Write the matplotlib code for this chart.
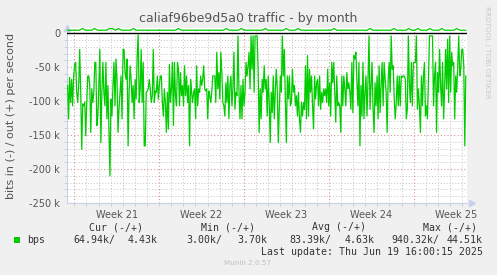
import matplotlib
matplotlib.use("Agg")
import matplotlib.pyplot as plt
import numpy as np

W, H = 497, 275

title = "caliaf96be9d5a0 traffic - by month"
ylabel = "bits in (-) / out (+) per second"
week_labels = ["Week 21", "Week 22", "Week 23", "Week 24", "Week 25"]
week_label_days = [3.5, 10.5, 17.5, 24.5, 31.5]
week_start_days = [0, 7, 14, 21, 28]
ytick_vals = [0, -50, -100, -150, -200, -250]
ytick_labels = ["0", "-50 k", "-100 k", "-150 k", "-200 k", "-250 k"]

# inbound traffic (plotted negative), kbit/s, 2-hour samples
in_seg1 = [-77, -126, -65, -102, -68, -107, -63, -46, -43, -87, -102, -77, -24, -87, -171,
           -104, -107, -102, -151, -102, -63, -63, -77, -146, -82, -102, -87, -43, -43, -136,
           -122, -77, -24, -161, -87, -43, -87, -107, -43, -126, -77, -141, -210, -97, -122,
           -77, -43, -107, -38, -68, -146, -112, -87, -63, -126, -24, -24, -58, -68, -38, -166]
in_seg2 = [-87, -48, -68, -102, -77, -126, -68, -97, -33, -2, -102, -82, -24, -102, -43,
           -166, -166, -87, -85, -82, -68, -82, -102, -92, -24, -102, -85, -87, -63, -97,
           -77, -63, -63, -102, -122, -82, -102, -146, -87, -141, -46, -102, -82, -43, -136,
           -43, -92, -107, -43, -53, -107, -58, -92, -77, -107, -48, -92, -63, -102, -77,
           -166, -68, -87, -102, -87]
in_seg3 = [-82, -126, -48, -107, -82, -87, -63, -77, -68, -48, -82, -85, -82, -126, -85,
           -92, -102, -87, -63, -63, -63, -102, -28, -82, -58, -97, -28, -58, -102, -107,
           -122, -73, -102, -63, -126, -77, -63, -107, -82, -28, -112, -87, -92, -4, -87,
           -126, -77, -126, -68, -107, -87, -43, -63, -48, -28, -82, -4, -53, -4, -87,
           -4, -4, -4, -53, -146, -82, -126, -68]
in_seg4 = [-87, -48, -82, -68, -122, -63, -102, -161, -87, -117, -63, -126, -87, -53, -82,
           -161, -112, -63, -87, -4, -63, -24, -97, -161, -63, -97, -63, -107, -102, -53,
           -87, -77, -107, -92, -122, -87, -126, -146, -102, -122, -102, -112, -48, -126, -33,
           -122, -53, -87, -63, -107, -141, -63, -97, -73, -68, -107, -63, -112, -87, -102,
           -82, -92, -82, -102, -53, -107, -73, -122, -43, -73]
in_seg5 = [-43, -87, -131, -63, -107, -102, -107, -146, -63, -107, -63, -82, -107, -58, -82,
           -73, -87, -112, -43, -117, -33, -38, -28, -73, -107, -43, -166, -77, -122, -43,
           -126, -87, -63, -122, -68, -4, -112, -77, -43, -112, -146, -73, -107, -63, -126,
           -48, -117, -77, -43, -107, -43, -68, -87, -146, -68, -43, -87, -4, -53, -48,
           -97, -126, -102, -63, -107, -63, -107, -63, -65, -63]
in_seg6 = [-63, -68, -126, -112, -4, -73, -102, -43, -107, -43, -43, -43, -4, -112, -82,
           -107, -146, -63, -107, -63, -43, -122, -107, -126, -68, -4, -4, -4, -4, -107,
           -63, -43, -146, -58, -87, -24, -77, -107, -43, -126, -82, -24, -82, -9, -102,
           -4, -87, -28, -48, -43, -126, -63, -87, -48, -4, -63, -53, -24, -24, -48,
           -166, -63]
in_kbps = in_seg1 + in_seg2 + in_seg3 + in_seg4 + in_seg5 + in_seg6

# outbound traffic (plotted positive), kbit/s
out_kbps = [4.4, 4.4, 4.4, 4.4, 4.4, 6.8, 4.4, 4.4, 4.4, 6.8,
            4.4, 4.4, 4.4, 4.4, 6.8, 6.8, 4.4, 6.8, 4.4, 4.4,
            4.4, 4.4, 6.8, 4.4, 4.4, 4.4, 4.4, 4.4, 4.4, 4.4,
            4.4, 4.4, 4.4, 4.4, 4.4, 4.4, 4.4, 6.8, 4.4, 4.4,
            4.4, 4.4, 4.4, 4.4, 4.4, 4.4, 4.4, 4.4, 4.4, 4.4,
            4.4, 4.4, 4.4, 6.8, 4.4, 4.4, 4.4, 4.4, 6.8, 4.4,
            4.4, 4.4, 4.4, 4.4, 4.4, 4.4, 6.8, 4.4, 4.4, 4.4,
            4.4, 4.4, 4.4, 6.8, 4.4, 4.4, 4.4, 6.8, 4.4, 4.4,
            4.4, 4.4, 4.4, 4.4, 4.4, 4.4, 4.4, 4.4, 4.4, 6.8,
            4.4, 4.4, 4.4, 4.4, 4.4, 4.4, 4.4, 4.4, 4.4, 4.4,
            4.4, 6.8, 4.4, 4.4, 4.4, 4.4, 4.4, 4.4, 4.4, 6.8,
            4.4, 4.4, 4.4, 4.4, 6.8, 4.4, 4.4, 6.8, 4.4, 4.4,
            4.4, 6.8, 4.4, 4.4, 4.4, 6.8, 4.4, 4.4, 4.4, 4.4,
            6.8, 4.4, 4.4, 4.4]

legend_name = "bps"
legend_headers = ["Cur (-/+)", "Min (-/+)", "Avg (-/+)", "Max (-/+)"]
legend_in = ["64.94k/", "3.00k/", "83.39k/", "940.32k/"]
legend_out = ["4.43k", "3.70k", "4.63k", "44.51k"]
last_update = "Last update: Thu Jun 19 16:00:15 2025"
munin_ver = "Munin 2.0.57"
rrd_credit = "RRDTOOL / TOBI OETIKER"

BG = "#F0F0F0"
GREEN = "#00CC00"
TXT = "#555555"

fig = plt.figure(figsize=(W / 100, H / 100), dpi=100)
fig.patch.set_facecolor(BG)

def fx(px):
    return px / W

def fy(py):
    return 1 - py / H

x0, x1, ytop, ybot = 67, 467, 27.5, 203
ax = fig.add_axes([fx(x0), fy(ybot), (x1 - x0) / W, (ybot - ytop) / H])
ax.set_facecolor("white")
ax.set_xlim(-0.6, 32.4)
ax.set_ylim(-250, 8.4)

# grid
for d in range(0, 33):
    if d % 7 == 0:
        continue
    ax.axvline(d, color="#c4c4c4", lw=0.7, ls=(0, (1, 2)), zorder=1)
for v in range(-240, 0, 10):
    if v % 50 == 0:
        continue
    ax.axhline(v, color="#c4c4c4", lw=0.7, ls=(0, (1, 2)), zorder=1)
for d in week_start_days:
    ax.axvline(d, color="#d89494", lw=0.8, ls=(0, (1, 2)), zorder=1.5)
for v in ytick_vals[1:]:
    ax.axhline(v, color="#d89494", lw=0.8, ls=(0, (1, 2)), zorder=1.5)

t_in = np.linspace(-0.55, 32.3, len(in_kbps))
t_out = np.linspace(-0.55, 32.3, len(out_kbps))
ax.axhline(0, color="black", lw=1.0, zorder=3)
ax.plot(t_in, in_kbps, color=GREEN, lw=0.9, zorder=4)
ax.plot(t_out, out_kbps, color=GREEN, lw=0.9, zorder=4)

for s in ["top", "right"]:
    ax.spines[s].set_visible(False)
for s in ["left", "bottom"]:
    ax.spines[s].set_color("#c8d0ec")
    ax.spines[s].set_linewidth(0.8)

ax.set_yticks(ytick_vals)
ax.set_yticklabels(ytick_labels, fontsize=7, color=TXT)
ax.set_xticks(week_label_days)
ax.set_xticklabels(week_labels, fontsize=7, color=TXT)
ax.tick_params(axis="both", which="major", length=0, pad=5)
ax.set_xticks(list(range(0, 33)), minor=True)
ax.tick_params(axis="x", which="minor", length=2, color="#c8c8c8", direction="out")
for d, tick in zip(range(0, 33), ax.xaxis.get_minor_ticks()):
    if d % 7 == 0:
        tick.tick1line.set_color("#e08080")
ax.set_yticks(list(range(-250, 1, 10)), minor=True)
ax.tick_params(axis="y", which="minor", length=2, color="#c8c8c8", direction="out")

# axis arrows
ax.plot([0], [1.0], marker="^", ms=4, color="#c8d0ec", transform=ax.transAxes, clip_on=False)
ax.plot([1.012], [0.0], marker=">", ms=4, color="#c8d0ec", transform=ax.transAxes, clip_on=False)

fig.text(fx(248), fy(18.5), title, ha="center", va="center", fontsize=9, color=TXT)
fig.text(fx(11), fy(115.5), ylabel, ha="center", va="center", rotation=90, fontsize=8, color=TXT)
fig.text(fx(487), fy(6), rrd_credit, ha="center", va="top", rotation=270, fontsize=5.2, color="#c8c8c8")

mono = dict(family="DejaVu Sans Mono", fontsize=7.1, color="#333333")
head_x = [89, 201, 312, 423]
for x, s in zip(head_x, legend_headers):
    fig.text(fx(x), fy(227), s, ha="left", va="center", **mono)
fig.patches.append(plt.Rectangle((fx(14), fy(243)), 6 / W, 6 / H, transform=fig.transFigure,
                                 facecolor=GREEN, edgecolor="none"))
fig.text(fx(27), fy(240), legend_name, ha="left", va="center", **mono)
in_x = [73, 186, 289, 391]
out_x = [158, 267, 375, 483]
for x, s in zip(in_x, legend_in):
    fig.text(fx(x), fy(240), s, ha="left", va="center", **mono)
for x, s in zip(out_x, legend_out):
    fig.text(fx(x), fy(240), s, ha="right", va="center", **mono)
fig.text(fx(483), fy(252), last_update, ha="right", va="center", **mono)
fig.text(fx(248), fy(263), munin_ver, ha="center", va="center", fontsize=5.2, color="#c0c0c0")

fig.savefig("out.png", dpi=100, facecolor=BG)
